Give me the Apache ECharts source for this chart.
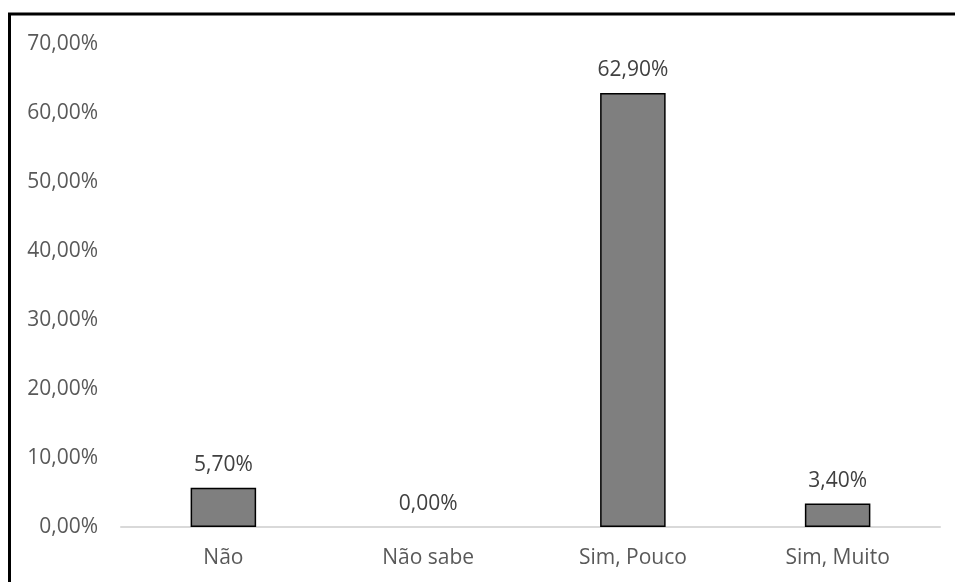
<!DOCTYPE html>
<html>
<head>
<meta charset="utf-8">
<script src="https://cdn.jsdelivr.net/npm/echarts@6/dist/echarts.min.js"></script>
<style>
  html, body { margin: 0; padding: 0; background: #ffffff; }
  #chart { width: 955px; height: 582px; }
</style>
</head>
<body>
<div id="chart"></div>
<script>
// Respostas e percentuais
const categories = ['Não', 'Não sabe', 'Sim, Pouco', 'Sim, Muito'];
const values = [5.70, 0.00, 62.90, 3.40];
const yTicks = { min: 0, max: 70, interval: 10 };

const fmt = v => v.toFixed(2).replace('.', ',') + '%';
const FONT = 'Open Sans';
const TEXT = '#595959';

// zero-height bars get no outline
const barData = values.map(v => ({
  value: v,
  itemStyle: v === 0 ? { borderWidth: 0 } : {}
}));

const chart = echarts.init(document.getElementById('chart'), null, { renderer: 'canvas' });
chart.setOption({
  backgroundColor: '#ffffff',
  animation: false,
  grid: { left: 121, right: 15, top: 44, bottom: 55, containLabel: false },
  xAxis: {
    type: 'category',
    data: categories,
    axisLine: { show: true, lineStyle: { color: '#d9d9d9', width: 2 } },
    axisTick: { show: false },
    axisLabel: { color: TEXT, fontFamily: FONT, fontSize: 21, margin: 21 }
  },
  yAxis: {
    type: 'value',
    min: yTicks.min, max: yTicks.max, interval: yTicks.interval,
    splitLine: { show: false },
    axisLine: { show: false },
    axisTick: { show: false },
    axisLabel: { color: TEXT, fontFamily: FONT, fontSize: 21, margin: 23, formatter: fmt }
  },
  series: [{
    type: 'bar',
    data: barData,
    barWidth: '32%',
    itemStyle: { color: '#7f7f7f', borderColor: '#000000', borderWidth: 1.5 },
    label: {
      show: true, position: 'top', distance: 12,
      color: '#404040', fontFamily: FONT, fontSize: 21,
      formatter: p => fmt(p.value)
    }
  }],
  graphic: [
    { type: 'line', shape: { x1: 9.5, y1: 13, x2: 9.5, y2: 582 }, style: { stroke: '#000', lineWidth: 3 } },
    { type: 'line', shape: { x1: 8, y1: 14, x2: 955, y2: 14 }, style: { stroke: '#000', lineWidth: 3 } }
  ]
});
</script>
</body>
</html>
